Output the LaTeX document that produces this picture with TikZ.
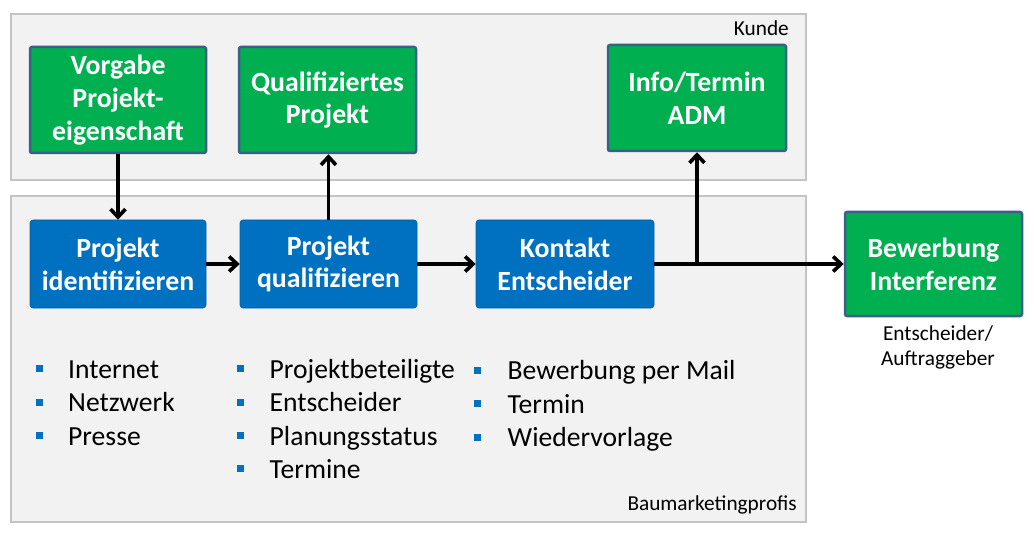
\documentclass[tikz,border=0pt]{standalone}
\usepackage{fontspec}
\setmainfont{Carlito}
\usepackage{xcolor}
\usetikzlibrary{arrows.meta,positioning}

\definecolor{frameFill}{RGB}{242,242,242}
\definecolor{frameLine}{RGB}{196,196,196}
\definecolor{kGreen}{RGB}{0,176,80}
\definecolor{kBlue}{RGB}{0,112,192}
\definecolor{kEdge}{RGB}{60,94,138}

\begin{document}
\begin{tikzpicture}[
  x=1pt, y=-1pt,
  pframe/.style={rectangle, fill=frameFill, draw=frameLine,
    line width=2.5pt, minimum width=795pt, inner sep=0pt},
  pGreen/.style={rectangle, rounded corners=2pt,
    minimum width=176pt, minimum height=106pt,
    align=center, inner sep=2pt,
    fill=kGreen, draw=kEdge, line width=2.5pt,
    text=white, font=\fontsize{27.8}{32.8}\selectfont\bfseries},
  pBlue/.style={rectangle, rounded corners=3pt,
    minimum width=177pt, minimum height=88pt,
    align=center, inner sep=2pt,
    fill=kBlue, draw=kBlue!85!black, line width=0.6pt,
    text=white, font=\fontsize{27.8}{32.8}\selectfont\bfseries},
  ptag/.style={inner sep=0pt, align=center,
    font=\fontsize{21.3}{25}\selectfont},
  pbul/.style={rectangle, fill=kBlue, minimum size=7pt, inner sep=0pt},
  pitem/.style={anchor=base west, inner sep=0pt,
    font=\fontsize{27.6}{32}\selectfont},
  parr/.style={-{Straight Barb[length=8pt,width=15pt]},
    line width=3.6pt, black},
]
  \useasboundingbox (0,0) rectangle (1034,540);

  %% ── Frames ──────────────────────────────────────────────────
  \node[pframe, minimum height=166pt] (kunde) at (408.5,97) {};
  \node[pframe, minimum height=326pt] (bmp) at (408.5,359) {};
  \node[ptag, anchor=base east] (kundeL) at (789,36) {Kunde};
  \node[ptag, anchor=base east] (bmpL) at (797,510) {Baumarketingprofis};

  %% ── Kunde boxes ─────────────────────────────────────────────
  \node[pGreen] (vorgabe) at (118,100) {Vorgabe\\Projekt-\\eigenschaft};
  \node[pGreen, minimum width=177pt] (qualprj) at (327.5,100)
    {Qualifiziertes\\Projekt};
  \node[pGreen, minimum width=178pt] (info) at (697,98)
    {Info/Termin\\ADM};

  %% ── Process boxes ───────────────────────────────────────────
  \node[pBlue, minimum width=176pt] (ident) at (118,264)
    {Projekt\\identifizieren};
  \node[pBlue] (qualif) at (328.5,264) {Projekt\\qualifizieren};
  \node[pBlue, minimum width=178pt] (kontakt) at (565,264)
    {Kontakt\\Entscheider};

  \node[pGreen, minimum width=177pt, minimum height=104pt] (bewerb)
    at (933.5,264) {Bewerbung\\Interferenz};
  \node[ptag] (auftr) at (938,347) {Entscheider/\\Auftraggeber};

  %% ── Bullet lists ────────────────────────────────────────────
  \foreach \t/\y [count=\i] in {Internet/378, Netzwerk/411.5, Presse/445} {
    \node[pbul] (ba\i) at (39,\y-9.5) {};
    \node[pitem] (ta\i) at (68,\y) {\t};
  }
  \foreach \t/\y [count=\i] in {Projektbeteiligte/378, Entscheider/411.5,
      Planungsstatus/445, Termine/478} {
    \node[pbul] (bb\i) at (240,\y-9.5) {};
    \node[pitem] (tb\i) at (269.5,\y) {\t};
  }
  \foreach \t/\y [count=\i] in {Bewerbung per Mail/379.5, Termin/413,
      Wiedervorlage/446.5} {
    \node[pbul] (bc\i) at (477.5,\y-9.5) {};
    \node[pitem] (tc\i) at (507.5,\y) {\t};
  }

  %% ── Arrows ──────────────────────────────────────────────────
  \coordinate (junc) at (info.south |- kontakt.east);

  \draw[parr] (vorgabe.south) -- (vorgabe.south |- ident.north);
  \draw[parr] (qualif.north) -- (qualif.north |- qualprj.south);
  \foreach \f/\t in {ident/qualif, qualif/kontakt, kontakt/bewerb}
    \draw[parr] (\f.east) -- (\t.west);
  \draw[parr] (junc) -- (info.south);

\end{tikzpicture}
\end{document}
